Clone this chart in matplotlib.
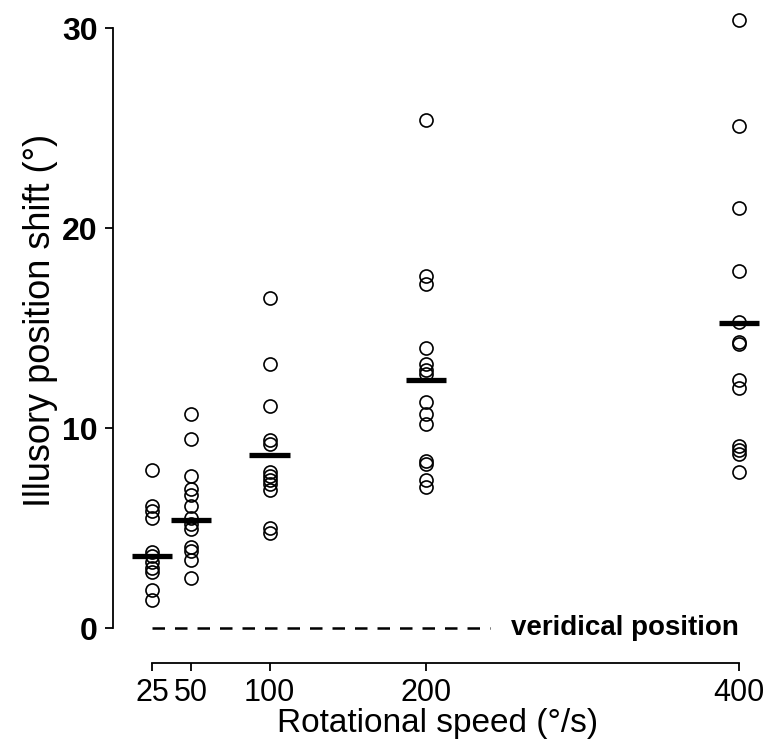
import matplotlib
matplotlib.use("Agg")
import matplotlib.pyplot as plt
import numpy as np

# ---- data ----
speeds = [25, 50, 100, 200, 400]
shift_25 = [7.9, 6.1, 5.85, 5.5, 3.8, 3.6, 3.3, 3.0, 2.8, 1.9, 1.4]
shift_50 = [10.7, 9.45, 7.6, 6.95, 6.65, 6.1, 5.5, 5.2, 4.95, 4.05, 3.85, 3.4, 2.5]
shift_100 = [16.5, 13.2, 11.1, 9.4, 9.2, 7.8, 7.6, 7.4, 7.2, 6.9, 5.0, 4.75]
shift_200 = [25.4, 17.6, 17.2, 14.0, 13.2, 12.9, 12.7, 11.3, 10.7, 10.2, 8.35, 8.2, 7.4, 7.05]
shift_400 = [30.4, 25.1, 21.0, 17.85, 15.3, 14.3, 14.2, 12.4, 12.0, 9.1, 8.9, 8.7, 7.8]
mean_shift = [3.6, 5.4, 8.65, 12.4, 15.25]
veridical_end = 241
y_ticks = [0, 10, 20, 30]
x_labels = ["25", "50", "100", "200", "400"]

groups = [shift_25, shift_50, shift_100, shift_200, shift_400]
SANS = ["Liberation Sans", "DejaVu Sans"]

fig = plt.figure(figsize=(7.64, 7.42), dpi=100)
ax = fig.add_axes([113/764, 79/742, 649.5/764, 653/742])
ax.set_xlim(0, 415)
ax.set_ylim(-1.75, 30.9)

for s, vals in zip(speeds, groups):
    ax.plot([s]*len(vals), vals, linestyle="none", marker="o", markersize=9.4,
            markerfacecolor="none", markeredgecolor="black", markeredgewidth=1.2,
            clip_on=False, zorder=3)

half = 12.8
for s, m in zip(speeds, mean_shift):
    ax.plot([s - half, s + half], [m, m], color="black", linewidth=3.8,
            solid_capstyle="butt", clip_on=False, zorder=4)

ax.plot([speeds[0], veridical_end], [0, 0], color="black", linestyle=(0, (5, 4)),
        linewidth=1.8)
ax.text(400, 0, "veridical position", ha="right", va="center", fontsize=20,
        family=SANS, fontweight="bold")

for side in ["top", "right"]:
    ax.spines[side].set_visible(False)
ax.spines["left"].set_bounds(0, 30)
ax.spines["bottom"].set_bounds(25, 400)
ax.spines["left"].set_linewidth(1.3)
ax.spines["bottom"].set_linewidth(1.3)

ax.set_yticks(y_ticks)
ax.set_yticklabels([str(v) for v in y_ticks], fontsize=23, fontweight="bold",
                   family=SANS)
ax.set_xticks(speeds)
ax.set_xticklabels(x_labels, fontsize=22, family=SANS)
ax.tick_params(axis="both", direction="out", length=6, width=1.3, pad=5)

ax.set_ylabel("Illusory position shift (°)", fontsize=26, family=SANS)
ax.yaxis.set_label_coords(-0.085, 0.525)
ax.set_xlabel("Rotational speed (°/s)", fontsize=24, family=SANS, labelpad=0)

fig.savefig("out.png", dpi=100)
